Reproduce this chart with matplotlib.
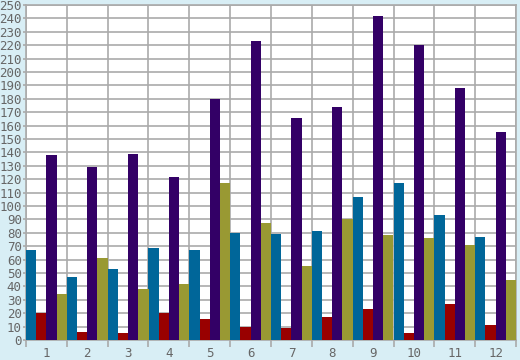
import matplotlib.pyplot as plt
import numpy as np

categories = ["1", "2", "3", "4", "5", "6", "7", "8", "9", "10", "11", "12"]
series_blue = [67, 47, 53, 69, 67, 80, 79, 81, 107, 117, 93, 77]
series_red = [20, 6, 5, 20, 16, 10, 9, 17, 23, 5, 27, 11]
series_purple = [138, 129, 139, 122, 180, 223, 166, 174, 242, 220, 188, 155]
series_olive = [34, 61, 38, 42, 117, 87, 55, 90, 78, 76, 71, 45]

series = [series_blue, series_red, series_purple, series_olive]
colors = ["#006699", "#990000", "#330066", "#999933"]

bg = "#d8eef5"
grid_c = "#aaaaaa"
text_c = "#666666"

fig = plt.figure(figsize=(5.2, 3.6), dpi=100, facecolor=bg)
ax = fig.add_axes([26 / 520, 20 / 360, 490 / 520, 335 / 360])
ax.set_facecolor("white")

x = np.arange(len(categories))
w = 0.25
for j, (vals, c) in enumerate(zip(series, colors)):
    ax.bar(x - 0.5 + j * w, vals, width=w, align="edge", color=c, zorder=3, linewidth=0)

ax.set_xlim(-0.5, len(categories) - 0.5)
ax.set_ylim(0, 250)

ax.set_yticks(np.arange(0, 251, 10))
ax.set_xticks(x)
ax.set_xticklabels(categories)
ax.set_xticks(np.arange(-0.5, len(categories), 1.0), minor=True)

ax.grid(True, which="major", axis="y", color=grid_c, linewidth=1.2, zorder=0)
ax.grid(True, which="minor", axis="x", color=grid_c, linewidth=1.2, zorder=0)

ax.tick_params(axis="x", which="major", length=0, pad=5, labelsize=9, labelcolor=text_c)
ax.tick_params(axis="x", which="minor", length=5, color=grid_c, width=1.2)
ax.tick_params(axis="y", length=2, color=grid_c, width=1.2, pad=1, labelsize=9, labelcolor=text_c)

for lab in ax.get_xticklabels() + ax.get_yticklabels():
    lab.set_family("DejaVu Sans Mono")

for s in ax.spines.values():
    s.set_color(grid_c)
    s.set_linewidth(1.2)

fig.savefig("out.png", dpi=100, facecolor=bg)
